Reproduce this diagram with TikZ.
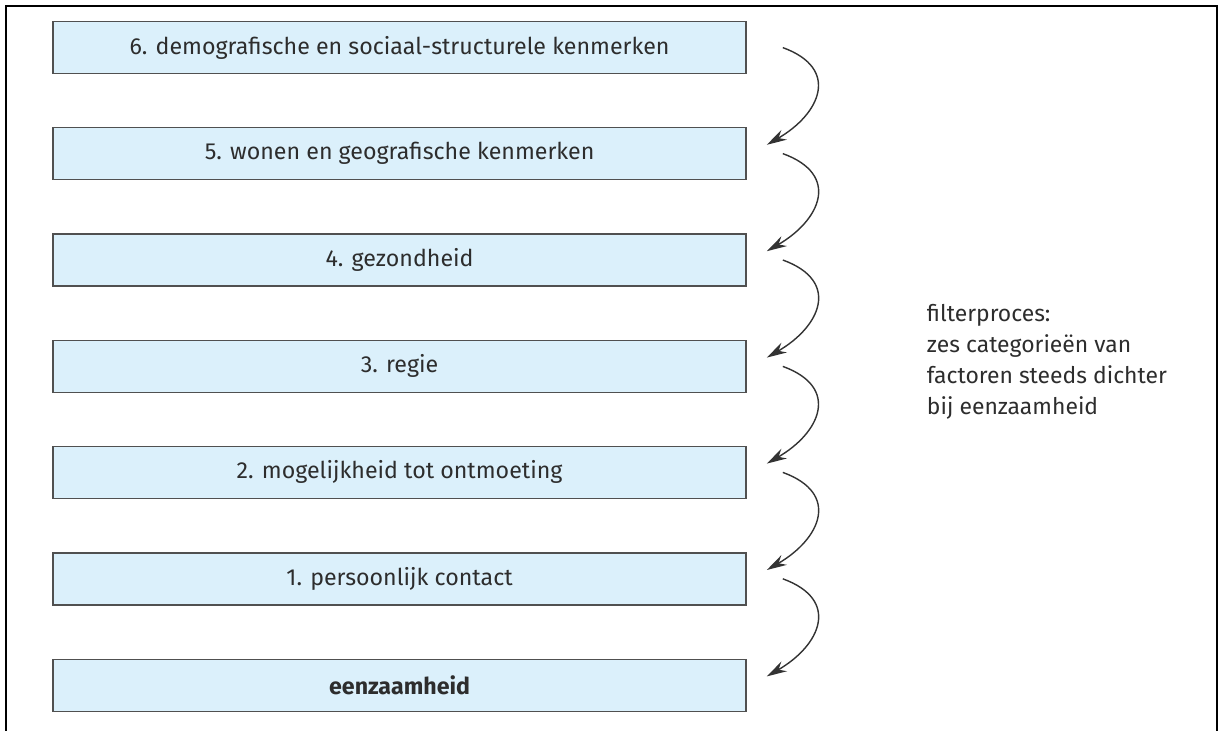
\documentclass[tikz,border=0pt]{standalone}
\usepackage{fontspec}
\setmainfont{Fira Sans}
\usetikzlibrary{arrows.meta,positioning}
\definecolor{factorFill}{RGB}{219,240,251}
\definecolor{factorLine}{RGB}{80,80,80}
\definecolor{txtGray}{RGB}{45,45,45}
\tikzset{
    every node/.append style={align=center,text=txtGray},
    box/.style={rectangle,draw=factorLine,line width=1pt,fill=factorFill,
        minimum height=1.3cm,minimum width=17.325cm,inner sep=0pt,
        font=\fontsize{16.5}{19}\selectfont},
    arr/.style={-{Stealth[length=5mm,width=2.8mm]},line width=1pt,draw=black!80},
    note/.style={align=left,anchor=west,font=\fontsize{16.3}{22}\selectfont}
}
\begin{document}
\begin{tikzpicture}
    \useasboundingbox (0,0) rectangle (30.475,-18.275);
    % outer frame, open at the bottom
    \draw[line width=1.4pt] (0.15,-18.275) -- (0.15,-0.15) -- (30.425,-0.15) -- (30.425,-18.275);

    % factor categories
    \node[box] (f6)   at (9.99, -1.19) {6. demografische en sociaal-structurele kenmerken};
    \node[box] (f5)   at (9.99, -3.84) {5. wonen en geografische kenmerken};
    \node[box] (f4)   at (9.99, -6.50) {4. gezondheid};
    \node[box] (f3)   at (9.99, -9.16) {3. regie};
    \node[box] (f2)   at (9.99,-11.81) {2. mogelijkheid tot ontmoeting};
    \node[box] (f1)   at (9.99,-14.47) {1. persoonlijk contact};
    \node[box] (eenz) at (9.99,-17.13) {\bfseries eenzaamheid};

    \node[note] (filter) at (23.05,-9.05) {filterproces:\\zes categorieën van\\factoren steeds dichter\\bij eenzaamheid};

    \draw[arr] ([xshift=0.9cm]f6.east) to[out=-20,in=30,looseness=1.6] ([xshift=0.5cm,yshift=0.22cm]f5.east);
    \draw[arr] ([xshift=0.9cm]f5.east) to[out=-20,in=30,looseness=1.6] ([xshift=0.5cm,yshift=0.22cm]f4.east);
    \draw[arr] ([xshift=0.9cm]f4.east) to[out=-20,in=30,looseness=1.6] ([xshift=0.5cm,yshift=0.22cm]f3.east);
    \draw[arr] ([xshift=0.9cm]f3.east) to[out=-20,in=30,looseness=1.6] ([xshift=0.5cm,yshift=0.22cm]f2.east);
    \draw[arr] ([xshift=0.9cm]f2.east) to[out=-20,in=30,looseness=1.6] ([xshift=0.5cm,yshift=0.22cm]f1.east);
    \draw[arr] ([xshift=0.9cm]f1.east) to[out=-20,in=30,looseness=1.6] ([xshift=0.5cm,yshift=0.22cm]eenz.east);
\end{tikzpicture}
\end{document}
